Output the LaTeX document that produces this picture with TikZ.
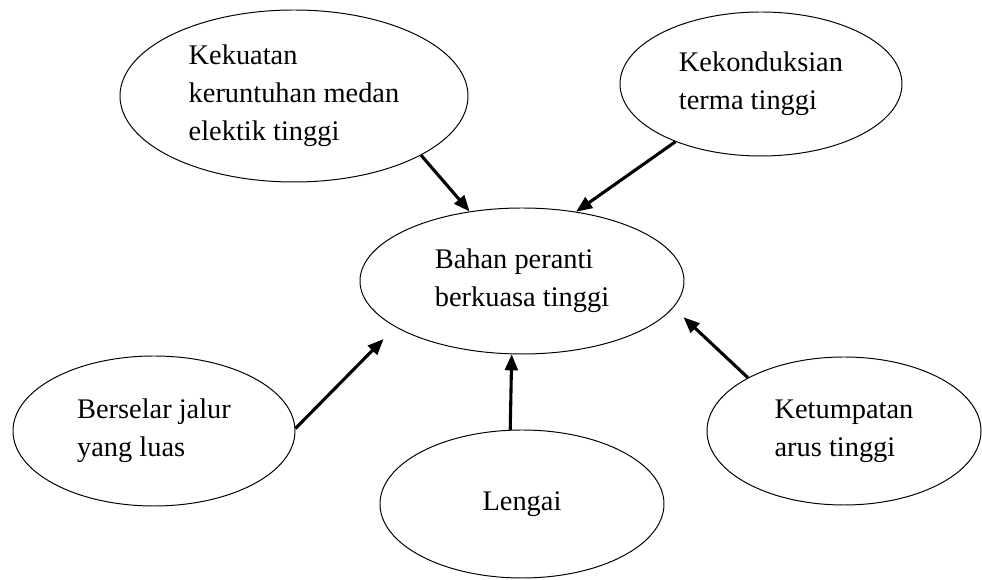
\documentclass[tikz,border=0pt]{standalone}
\usepackage{fontspec}
\setmainfont{Liberation Serif}
\usetikzlibrary{positioning,arrows.meta,shapes.geometric}

\begin{document}
\begin{tikzpicture}[
  node distance=0cm, on grid,
  ideanode/.style={ellipse, draw=black, line width=0.7pt, align=left, inner sep=0pt, font=\fontsize{20.2}{27}\selectfont},
  arrow/.style = {line width=2.2pt,-{Triangle[length=0.4cm,width=0.32cm]}}
]
\useasboundingbox (-13.05,-7.475) rectangle (11.5,7.025);

%Nodes
\node[ideanode, minimum width=8.1cm, minimum height=3.65cm] (bahan) {Bahan peranti \\ berkuasa tinggi};
\node[ideanode, minimum width=8.7cm, minimum height=4.3cm, above left=4.625cm and 5.7cm of bahan] (kekuatan) {Kekuatan \\ keruntuhan medan \\ elektik tinggi};
\node[ideanode, minimum width=7.05cm, minimum height=3.6cm, above right=4.925cm and 5.975cm of bahan] (konduksi) {Kekonduksian \\ terma tinggi};
\node[ideanode, minimum width=7.05cm, minimum height=3.75cm, below left=3.75cm and 9.2cm of bahan] (jalur) {Berselar jalur \\ yang luas};
\node[ideanode, minimum width=7.1cm, minimum height=3.7cm, below=5.575cm of bahan] (lengai) {Lengai};
\node[ideanode, minimum width=6.85cm, minimum height=3.7cm, below right=3.75cm and 8.05cm of bahan] (arus) {Ketumpatan \\ arus tinggi};

%Arrows
\draw[arrow] (kekuatan.-25) -- (bahan.127);
\draw[arrow] (konduksi.-146) -- (bahan.52);
\draw[arrow, shorten >=0.42cm] (jalur.1) -- (bahan.200);
\draw[arrow] (lengai.99) -- (bahan.262);
\draw[arrow, shorten >=0.35cm] (arus.151) -- (bahan.-10);

\end{tikzpicture}
\end{document}
